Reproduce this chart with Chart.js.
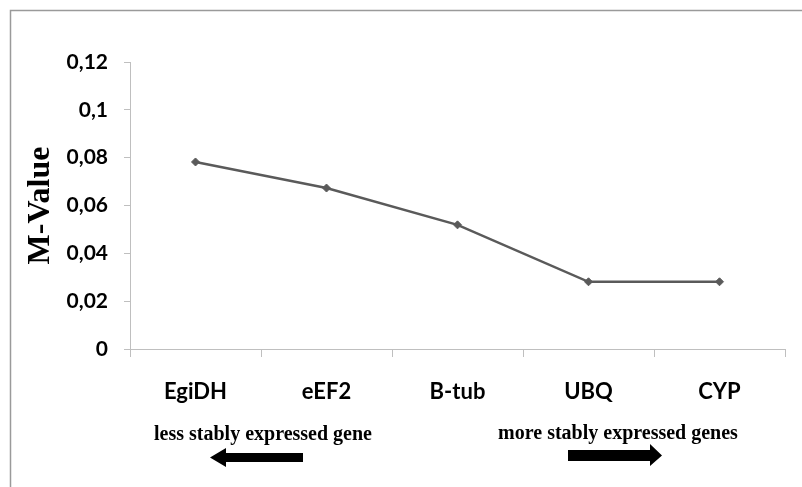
<!DOCTYPE html>
<html>
<head>
<meta charset="utf-8">
<script src="https://cdn.jsdelivr.net/npm/chart.js@4"></script>
<style>
  html, body { margin: 0; padding: 0; background: #fff; }
  #wrap { position: relative; width: 802px; height: 487px; overflow: hidden; }
  #c { position: absolute; left: 0; top: 0; }
  .note { position: absolute; font-family: "Liberation Serif", "Times New Roman", serif; font-weight: bold; font-size: 20px; color: #000; white-space: nowrap; transform: translate(-50%, -50%); }
</style>
</head>
<body>
<div id="wrap">
  <canvas id="c" width="802" height="487"></canvas>
  <div class="note" style="left:263px; top:433px;">less stably expressed gene</div>
  <div class="note" style="left:618px; top:432px;">more stably expressed genes</div>
</div>
<script>
const genes = ["EgiDH", "eEF2", "B-tub", "UBQ", "CYP"];
const mValues = [0.0782, 0.0673, 0.0519, 0.0281, 0.0281];
const yTickLabels = { 0: "0", 0.02: "0,02", 0.04: "0,04", 0.06: "0,06", 0.08: "0,08", 0.1: "0,1", 0.12: "0,12" };

const decor = {
  id: 'decor',
  beforeDraw(chart) {
    const ctx = chart.ctx;
    ctx.save();
    ctx.strokeStyle = '#9a9a9a';
    ctx.lineWidth = 1.5;
    ctx.beginPath();
    ctx.moveTo(10.5, 487);
    ctx.lineTo(10.5, 10.5);
    ctx.lineTo(802, 10.5);
    ctx.stroke();
    ctx.restore();
  },
  afterDraw(chart) {
    const ctx = chart.ctx;
    ctx.save();
    ctx.fillStyle = '#000';
    // left arrow
    ctx.beginPath();
    ctx.moveTo(303, 453);
    ctx.lineTo(226, 453);
    ctx.lineTo(226, 448);
    ctx.lineTo(210, 457.5);
    ctx.lineTo(226, 467);
    ctx.lineTo(226, 462);
    ctx.lineTo(303, 462);
    ctx.closePath();
    ctx.fill();
    // right arrow
    ctx.beginPath();
    ctx.moveTo(568, 450);
    ctx.lineTo(650, 450);
    ctx.lineTo(650, 444);
    ctx.lineTo(662, 455.5);
    ctx.lineTo(650, 466);
    ctx.lineTo(650, 461);
    ctx.lineTo(568, 461);
    ctx.closePath();
    ctx.fill();
    ctx.restore();
  }
};

new Chart(document.getElementById('c'), {
  type: 'line',
  data: {
    labels: genes,
    datasets: [{
      data: mValues,
      borderColor: '#5a5a5a',
      backgroundColor: '#5a5a5a',
      borderWidth: 2.5,
      pointStyle: 'rectRot',
      pointRadius: 4,
      pointBorderWidth: 1,
      tension: 0
    }]
  },
  options: {
    responsive: false,
    animation: false,
    events: [],
    layout: { padding: { left: 0, top: 62, right: 17, bottom: 0 } },
    plugins: { legend: { display: false }, tooltip: { enabled: false } },
    scales: {
      x: {
        offset: true,
        grid: { offset: true, drawOnChartArea: false, drawTicks: true, tickLength: 8, color: '#bfbfbf' },
        border: { color: '#bfbfbf', width: 1 },
        ticks: { color: '#000', font: { family: 'Lato', weight: 'bold', size: 22 }, padding: 22, maxRotation: 0 },
        afterFit(scale) { scale.height = 138; }
      },
      y: {
        min: 0, max: 0.12,
        grid: { drawOnChartArea: false, drawTicks: true, tickLength: 6, color: '#bfbfbf' },
        border: { color: '#bfbfbf', width: 1 },
        ticks: {
          stepSize: 0.02,
          color: '#000',
          font: { family: 'Lato', weight: 'bold', size: 21 },
          padding: 16,
          callback(v) { const k = Math.round(v * 100) / 100; return yTickLabels[k] !== undefined ? yTickLabels[k] : ''; }
        },
        title: {
          display: true, text: 'M-Value', color: '#000',
          font: { family: 'Liberation Serif', weight: 'bold', size: 32 },
          padding: { top: 22, bottom: 0 }
        },
        afterFit(scale) { scale.width = 130; }
      }
    }
  },
  plugins: [decor]
});
</script>
</body>
</html>
